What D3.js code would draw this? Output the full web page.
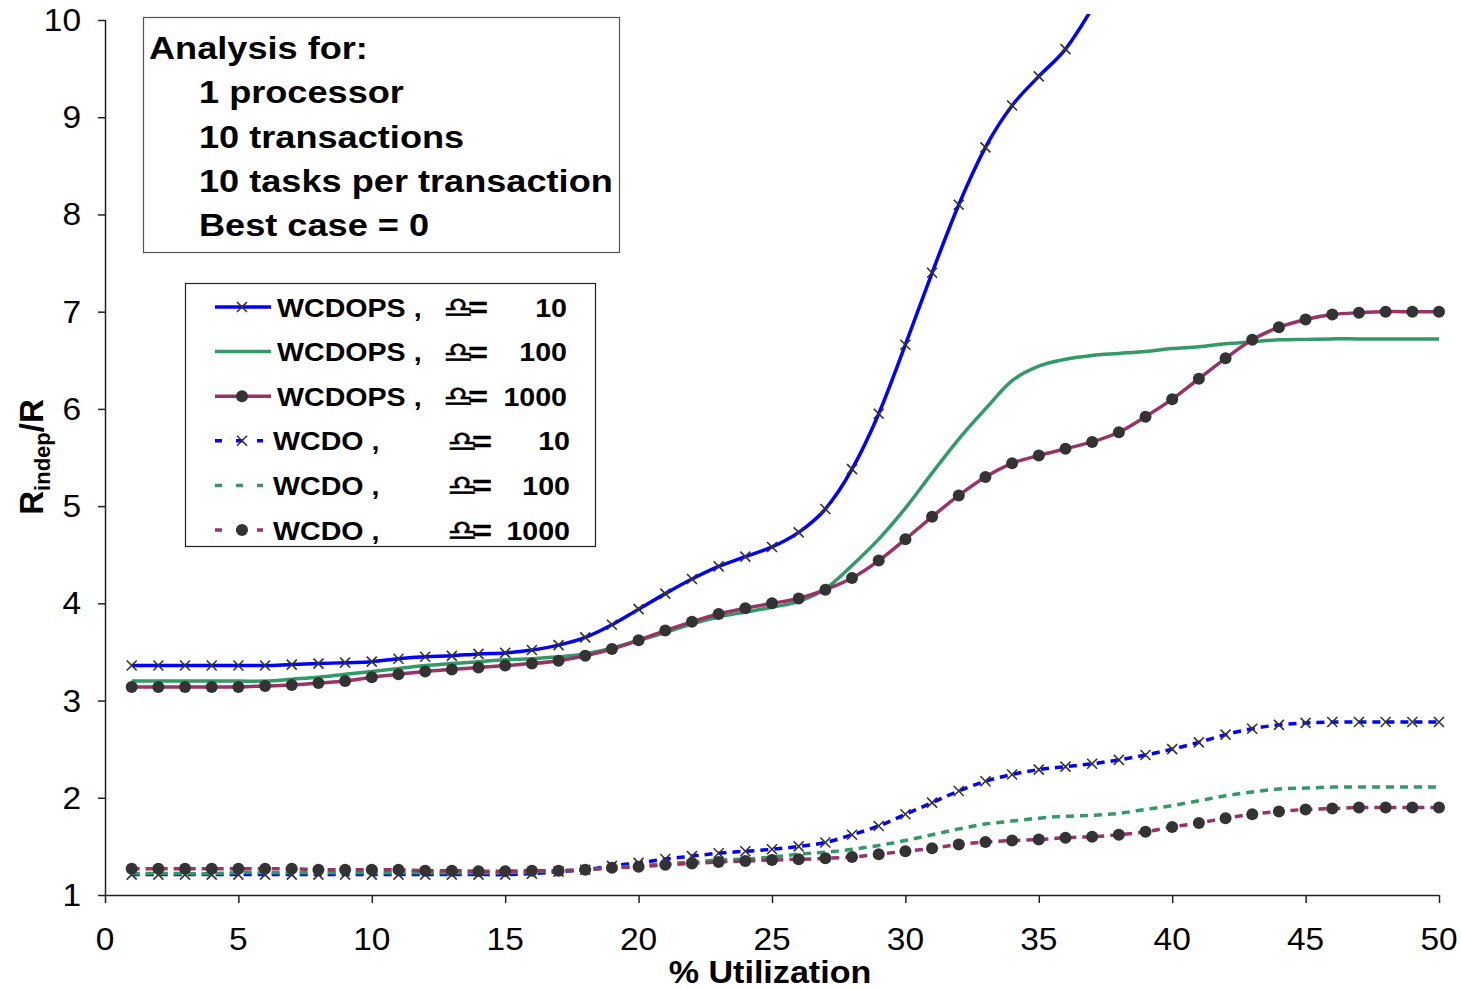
<!DOCTYPE html>
<html>
<head>
<meta charset="utf-8">
<script src="https://cdn.jsdelivr.net/npm/d3@7"></script>
<style>
html, body { margin: 0; padding: 0; background: #ffffff; }
svg { display: block; }
text { font-family: "Liberation Sans", Arial, "DejaVu Sans", sans-serif; fill: #000; }
</style>
</head>
<body>
<svg id="chart" width="1461" height="990"></svg>
<script>
// ---------------- data ----------------
const utilization = [1,2,3,4,5,6,7,8,9,10,11,12,13,14,15,16,17,18,19,20,21,22,23,24,25,26,27,28,29,30,31,32,33,34,35,36,37,38,39,40,41,42,43,44,45,46,47,48,49,50];

const wcdops10 = [3.36,3.36,3.36,3.36,3.36,3.36,3.37,3.38,3.39,3.40,3.43,3.45,3.46,3.48,3.49,3.52,3.57,3.65,3.78,3.94,4.10,4.25,4.38,4.48,4.58,4.73,4.97,5.38,5.95,6.66,7.40,8.10,8.69,9.12,9.42,9.70,10.12,null,null,null,null,null,null,null,null,null,null,null,null,null];
const wcdops100 = [3.20,3.20,3.20,3.20,3.20,3.20,3.22,3.24,3.27,3.30,3.33,3.36,3.38,3.40,3.42,3.43,3.45,3.48,3.54,3.62,3.70,3.79,3.86,3.91,3.96,4.02,4.15,4.39,4.66,4.98,5.34,5.69,6.00,6.29,6.44,6.51,6.55,6.57,6.59,6.62,6.64,6.67,6.69,6.71,6.715,6.72,6.72,6.72,6.72,6.72];
const wcdops1000 = [3.14,3.14,3.14,3.14,3.14,3.15,3.16,3.18,3.20,3.24,3.27,3.30,3.32,3.34,3.36,3.38,3.41,3.46,3.53,3.62,3.72,3.81,3.89,3.95,4.00,4.05,4.14,4.26,4.44,4.66,4.89,5.11,5.30,5.44,5.52,5.59,5.66,5.76,5.92,6.10,6.31,6.52,6.71,6.84,6.92,6.97,6.99,7.00,7.00,7.00];
const wcdo10 = [1.21,1.21,1.21,1.21,1.21,1.21,1.21,1.21,1.21,1.21,1.21,1.21,1.21,1.21,1.21,1.22,1.24,1.26,1.30,1.33,1.37,1.40,1.43,1.45,1.47,1.50,1.54,1.62,1.71,1.83,1.95,2.07,2.17,2.24,2.29,2.32,2.35,2.39,2.44,2.50,2.57,2.65,2.71,2.75,2.77,2.78,2.78,2.78,2.78,2.78];
const wcdo100 = [1.22,1.22,1.22,1.22,1.23,1.23,1.23,1.23,1.23,1.23,1.23,1.23,1.23,1.23,1.23,1.24,1.25,1.26,1.28,1.30,1.32,1.34,1.36,1.37,1.39,1.42,1.44,1.47,1.51,1.56,1.62,1.68,1.73,1.76,1.79,1.81,1.82,1.84,1.88,1.92,1.97,2.02,2.06,2.09,2.10,2.11,2.11,2.11,2.11,2.11];
const wcdo1000 = [1.27,1.27,1.27,1.27,1.27,1.27,1.27,1.26,1.26,1.26,1.26,1.25,1.25,1.245,1.245,1.25,1.25,1.26,1.28,1.29,1.31,1.325,1.34,1.35,1.36,1.367,1.377,1.39,1.42,1.45,1.48,1.52,1.545,1.56,1.57,1.59,1.60,1.62,1.65,1.70,1.74,1.79,1.83,1.86,1.88,1.89,1.90,1.90,1.90,1.90];

const seriesNames = ["WCDOPS ,", "WCDOPS ,", "WCDOPS ,", "WCDO ,", "WCDO ,", "WCDO ,"];
const deltaLabels = ["10", "100", "1000", "10", "100", "1000"];
const xTicks = [0,5,10,15,20,25,30,35,40,45,50];
const yTicks = [1,2,3,4,5,6,7,8,9,10];
const infoLines = ["Analysis for:", "1 processor", "10 transactions", "10 tasks per transaction", "Best case = 0"];

// ---------------- setup ----------------
const svg = d3.select("#chart");
const pLeft = 105, pRight = 1439, pTop = 20, pBottom = 895;
const x = d3.scaleLinear().domain([0, 50]).range([pLeft, pRight]);
const y = d3.scaleLinear().domain([1, 10]).range([pBottom, pTop]);

const series = [
  { values: wcdops10,   color: "#0000FF", dash: null,  marker: "x" },
  { values: wcdops100,  color: "#339966", dash: null,  marker: null },
  { values: wcdops1000, color: "#993366", dash: null,  marker: "dot" },
  { values: wcdo10,     color: "#0000FF", dash: "8,6", marker: "x" },
  { values: wcdo100,    color: "#339966", dash: "8,6", marker: null },
  { values: wcdo1000,   color: "#993366", dash: "8,6", marker: "dot" }
];

function stext(g, px, py, str, size, weight, sx, anchor) {
  return g.append("text")
    .attr("transform", `translate(${px},${py}) scale(${sx},1)`)
    .attr("font-size", size)
    .attr("font-weight", weight)
    .attr("text-anchor", anchor || "start")
    .text(str);
}

svg.append("defs").append("clipPath").attr("id", "plotclip")
  .append("rect").attr("x", pLeft).attr("y", 14).attr("width", pRight - pLeft + 10).attr("height", pBottom - 14 + 10);

// ---------------- axes ----------------
const axisG = svg.append("g");
const xAxis = d3.axisBottom(x).tickValues(xTicks).tickSize(8).tickFormat("");
const yAxis = d3.axisLeft(y).tickValues(yTicks).tickSize(7).tickFormat("");
axisG.append("g").attr("transform", `translate(0,${pBottom})`).call(xAxis)
  .call(g => g.select(".domain").attr("d", `M${pLeft},0.5H${pRight}`))
  .call(g => g.selectAll("line, path").attr("stroke", "#222").attr("stroke-width", 1.5));
axisG.append("g").attr("transform", `translate(${pLeft},0)`).call(yAxis)
  .call(g => g.select(".domain").attr("d", `M0.5,${pTop}V${pBottom}`))
  .call(g => g.selectAll("line, path").attr("stroke", "#222").attr("stroke-width", 1.5));

xTicks.forEach(t => stext(axisG, x(t), 949.5, String(t), 31, "normal", 1.08, "middle"));
yTicks.forEach(t => stext(axisG, 81, y(t) + 11, String(t), 31, "normal", 1.08, "end"));

// axis titles
stext(svg, 770, 983, "% Utilization", 31, "bold", 1.1, "middle");
const yt = svg.append("text")
  .attr("transform", "translate(43,457) rotate(-90)")
  .attr("text-anchor", "middle")
  .attr("font-size", 33)
  .attr("font-weight", "bold");
yt.append("tspan").text("R");
yt.append("tspan").attr("font-size", 22).attr("dy", 7).text("indep");
yt.append("tspan").attr("dy", -7).text("/R");

// ---------------- series ----------------
const plot = svg.append("g").attr("clip-path", "url(#plotclip)");
const lineGen = d3.line()
  .defined(d => d[1] !== null)
  .x(d => x(d[0]))
  .y(d => y(d[1]))
  .curve(d3.curveCatmullRom.alpha(0));

function drawMarker(g, type, cx, cy) {
  if (type === "x") {
    const s = 5;
    g.append("path")
      .attr("d", `M${cx - s},${cy - s}L${cx + s},${cy + s}M${cx - s},${cy + s}L${cx + s},${cy - s}`)
      .attr("stroke", "#333").attr("stroke-width", 1.6).attr("fill", "none");
  } else if (type === "dot") {
    g.append("circle").attr("cx", cx).attr("cy", cy).attr("r", 6).attr("fill", "#333");
  }
}

series.forEach(s => {
  const pts = utilization.map((u, i) => [u, s.values[i]]);
  const g = plot.append("g");
  const p = g.append("path").datum(pts)
    .attr("d", lineGen)
    .attr("fill", "none")
    .attr("stroke", s.color)
    .attr("stroke-width", 3.5)
    .attr("stroke-linejoin", "round");
  if (s.dash) p.attr("stroke-dasharray", s.dash);
  if (s.marker) {
    pts.filter(d => d[1] !== null && d[1] <= 10).forEach(d => drawMarker(g, s.marker, x(d[0]), y(d[1])));
  }
});

// ---------------- info box ----------------
const info = svg.append("g");
info.append("rect").attr("x", 143.5).attr("y", 17.5).attr("width", 476).attr("height", 235)
  .attr("fill", "#fff").attr("stroke", "#555").attr("stroke-width", 1.2);
infoLines.forEach((t, i) => {
  stext(info, i === 0 ? 149 : 199, 59 + i * 44.3, t, 32, "bold", 1.13, "start");
});

// ---------------- legend ----------------
const leg = svg.append("g");
leg.append("rect").attr("x", 185.5).attr("y", 283.5).attr("width", 410).attr("height", 263)
  .attr("fill", "#fff").attr("stroke", "#222").attr("stroke-width", 1.2);
series.forEach((s, i) => {
  const cy = 307 + i * 44.6;
  const lg = leg.append("g");
  const ln = lg.append("line")
    .attr("x1", 215).attr("x2", s.dash ? 263 : 271)
    .attr("y1", cy).attr("y2", cy)
    .attr("stroke", s.color).attr("stroke-width", 3.5);
  if (s.dash) ln.attr("stroke-dasharray", "7,14");
  if (s.marker) drawMarker(lg, s.marker, 242, cy);
  const isOps = i < 3;
  stext(lg, isOps ? 277 : 273, cy + 9.5, seriesNames[i], 26, "bold", 1.1, "start");
  lg.append("text")
    .attr("transform", `translate(${isOps ? 443 : 447},${cy + 10}) scale(1.2,1)`)
    .attr("font-size", 28)
    .attr("font-weight", "bold")
    .attr("letter-spacing", -4)
    .attr("stroke", "#000").attr("stroke-width", 0.5)
    .text("\u264E=");
  stext(lg, isOps ? 567 : 570, cy + 9.5, deltaLabels[i], 26, "bold", 1.1, "end");
});
</script>
</body>
</html>
